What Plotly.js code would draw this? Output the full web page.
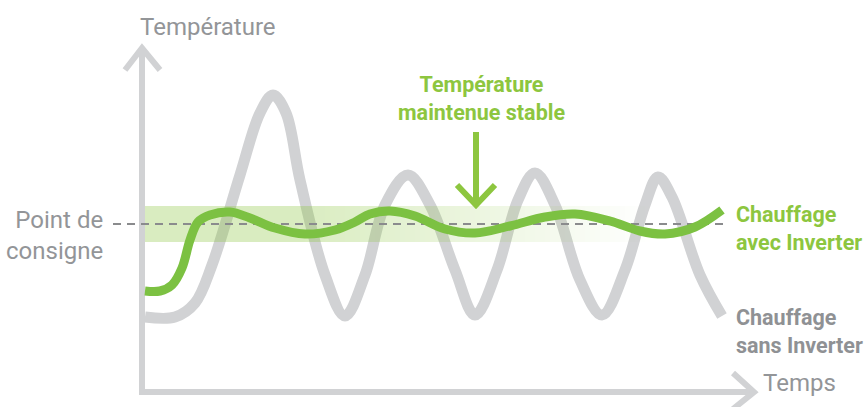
<!DOCTYPE html>
<html>
<head>
<meta charset="utf-8">
<script src="https://cdn.plot.ly/plotly-3.0.1.min.js"></script>
<style>html,body{margin:0;padding:0;background:#fff;}#chart{width:864px;height:407px;}</style>
</head>
<body>
<div id="chart"></div>
<script>
// Time (t) and temperature (T) values (arbitrary units, 1 unit ~ 1 px)
const grayTime = [3, 33, 53, 70, 98, 118, 131, 144, 158, 183, 203, 223, 243, 266, 288, 313, 333, 355, 376, 393, 413, 438, 460, 483, 503, 516, 530, 558, 580];
const grayTemp = [75, 75, 89, 127, 217, 279, 297, 279, 212, 117, 76, 117, 187, 217, 187, 122, 77, 122, 192, 219, 187, 112, 77, 122, 187, 215, 195, 117, 76];

const greenTime = [3, 18, 30, 40, 48, 56, 68, 88, 108, 133, 163, 193, 213, 228, 248, 273, 303, 333, 368, 403, 433, 468, 498, 523, 553, 580];
const greenTemp = [101, 101, 107, 124, 152, 170, 177, 180, 174, 164, 158, 162, 170, 178, 181, 176, 163, 159, 166, 175, 178, 171, 161, 158, 165, 182];

const setpoint = 168;        // "Point de consigne"
const tolerance = 18;        // half height of the stable band
const bandStart = 3, bandFadeStart = 158, bandEnd = 508;
const setpointLine = [-29, 581];

const xLabels = {temp: 'Température', time: 'Temps', setpoint: 'Point de<br>consigne'};
const notes = {stable: 'Température<br>maintenue stable', inv: 'Chauffage<br>avec Inverter', noinv: 'Chauffage<br>sans Inverter'};

const GRAY = '#d1d2d4', GREEN = '#7cc142', TEXTGREEN = '#8dc63f', TEXTGRAY = '#939598';
const FONT = 'Roboto, "Noto Sans", sans-serif';

const traces = [];
traces.push({x: grayTime, y: grayTemp, mode: 'lines', line: {color: GRAY, width: 11, shape: 'spline', smoothing: 1}, hoverinfo: 'skip'});

// stable band with fade to the right
const step = 5;
for (let x0 = bandStart; x0 < bandEnd; x0 += step) {
  const xm = x0 + step / 2;
  let f = 1;
  if (xm > bandFadeStart) f = Math.max(0, 1 - (xm - bandFadeStart) / (bandEnd - bandFadeStart));
  const a = 0.33 * f;
  traces.push({
    x: [x0, x0 + step, x0 + step, x0, x0],
    y: [setpoint - tolerance, setpoint - tolerance, setpoint + tolerance, setpoint + tolerance, setpoint - tolerance],
    mode: 'lines', fill: 'toself', fillcolor: 'rgba(140,198,63,' + a.toFixed(3) + ')',
    line: {width: 0, color: 'rgba(0,0,0,0)'}, hoverinfo: 'skip'
  });
}

traces.push({x: setpointLine, y: [setpoint, setpoint], mode: 'lines', line: {color: '#8a8b8d', width: 2, dash: '8px,6px'}, hoverinfo: 'skip'});
traces.push({x: greenTime, y: greenTemp, mode: 'lines', line: {color: GREEN, width: 9, shape: 'spline', smoothing: 1}, hoverinfo: 'skip'});

const axisLine = {color: GRAY, width: 6};
const shapes = [
  {type: 'path', layer: 'below', path: 'M 0,-3 L 0,344', line: axisLine},
  {type: 'path', layer: 'below', path: 'M -17,322 L 0,344 L 18,322', line: axisLine},
  {type: 'path', layer: 'below', path: 'M -3,0 L 612,0', line: axisLine},
  {type: 'path', layer: 'below', path: 'M 591,19 L 612,0 L 591,-17', line: axisLine},
  {type: 'path', layer: 'above', path: 'M 334,260 L 334,188', line: {color: TEXTGREEN, width: 6}},
  {type: 'path', layer: 'above', path: 'M 315,207 L 334,187 L 353,207', line: {color: TEXTGREEN, width: 6}}
];

function ann(text, x, y, xa, size, color, bold, align) {
  return {text: text, x: x, y: y, xref: 'x', yref: 'y', xanchor: xa, yanchor: 'middle', showarrow: false,
    align: align || 'left', font: {family: FONT, size: size, color: color, weight: bold ? 700 : 400}};
}
const annotations = [
  ann(xLabels.temp, -4, 365, 'left', 24, TEXTGRAY, false),
  ann(xLabels.setpoint, -37, 157, 'right', 24, TEXTGRAY, false, 'right'),
  ann(xLabels.time, 619, 9, 'left', 24, TEXTGRAY, false),
  ann(notes.stable, 339, 294, 'center', 21.5, TEXTGREEN, true, 'center'),
  ann(notes.inv, 592, 164, 'left', 21.5, TEXTGREEN, true),
  ann(notes.noinv, 592, 61, 'left', 21.5, '#8f9194', true)
];

const layout = {
  width: 864, height: 407, margin: {l: 0, r: 0, t: 0, b: 0},
  paper_bgcolor: '#ffffff', plot_bgcolor: '#ffffff', showlegend: false,
  xaxis: {range: [-142, 722], visible: false, fixedrange: true},
  yaxis: {range: [-15, 392], visible: false, fixedrange: true},
  shapes: shapes, annotations: annotations, font: {family: FONT}
};
Plotly.newPlot('chart', traces, layout, {staticPlot: true});
</script>
</body>
</html>
